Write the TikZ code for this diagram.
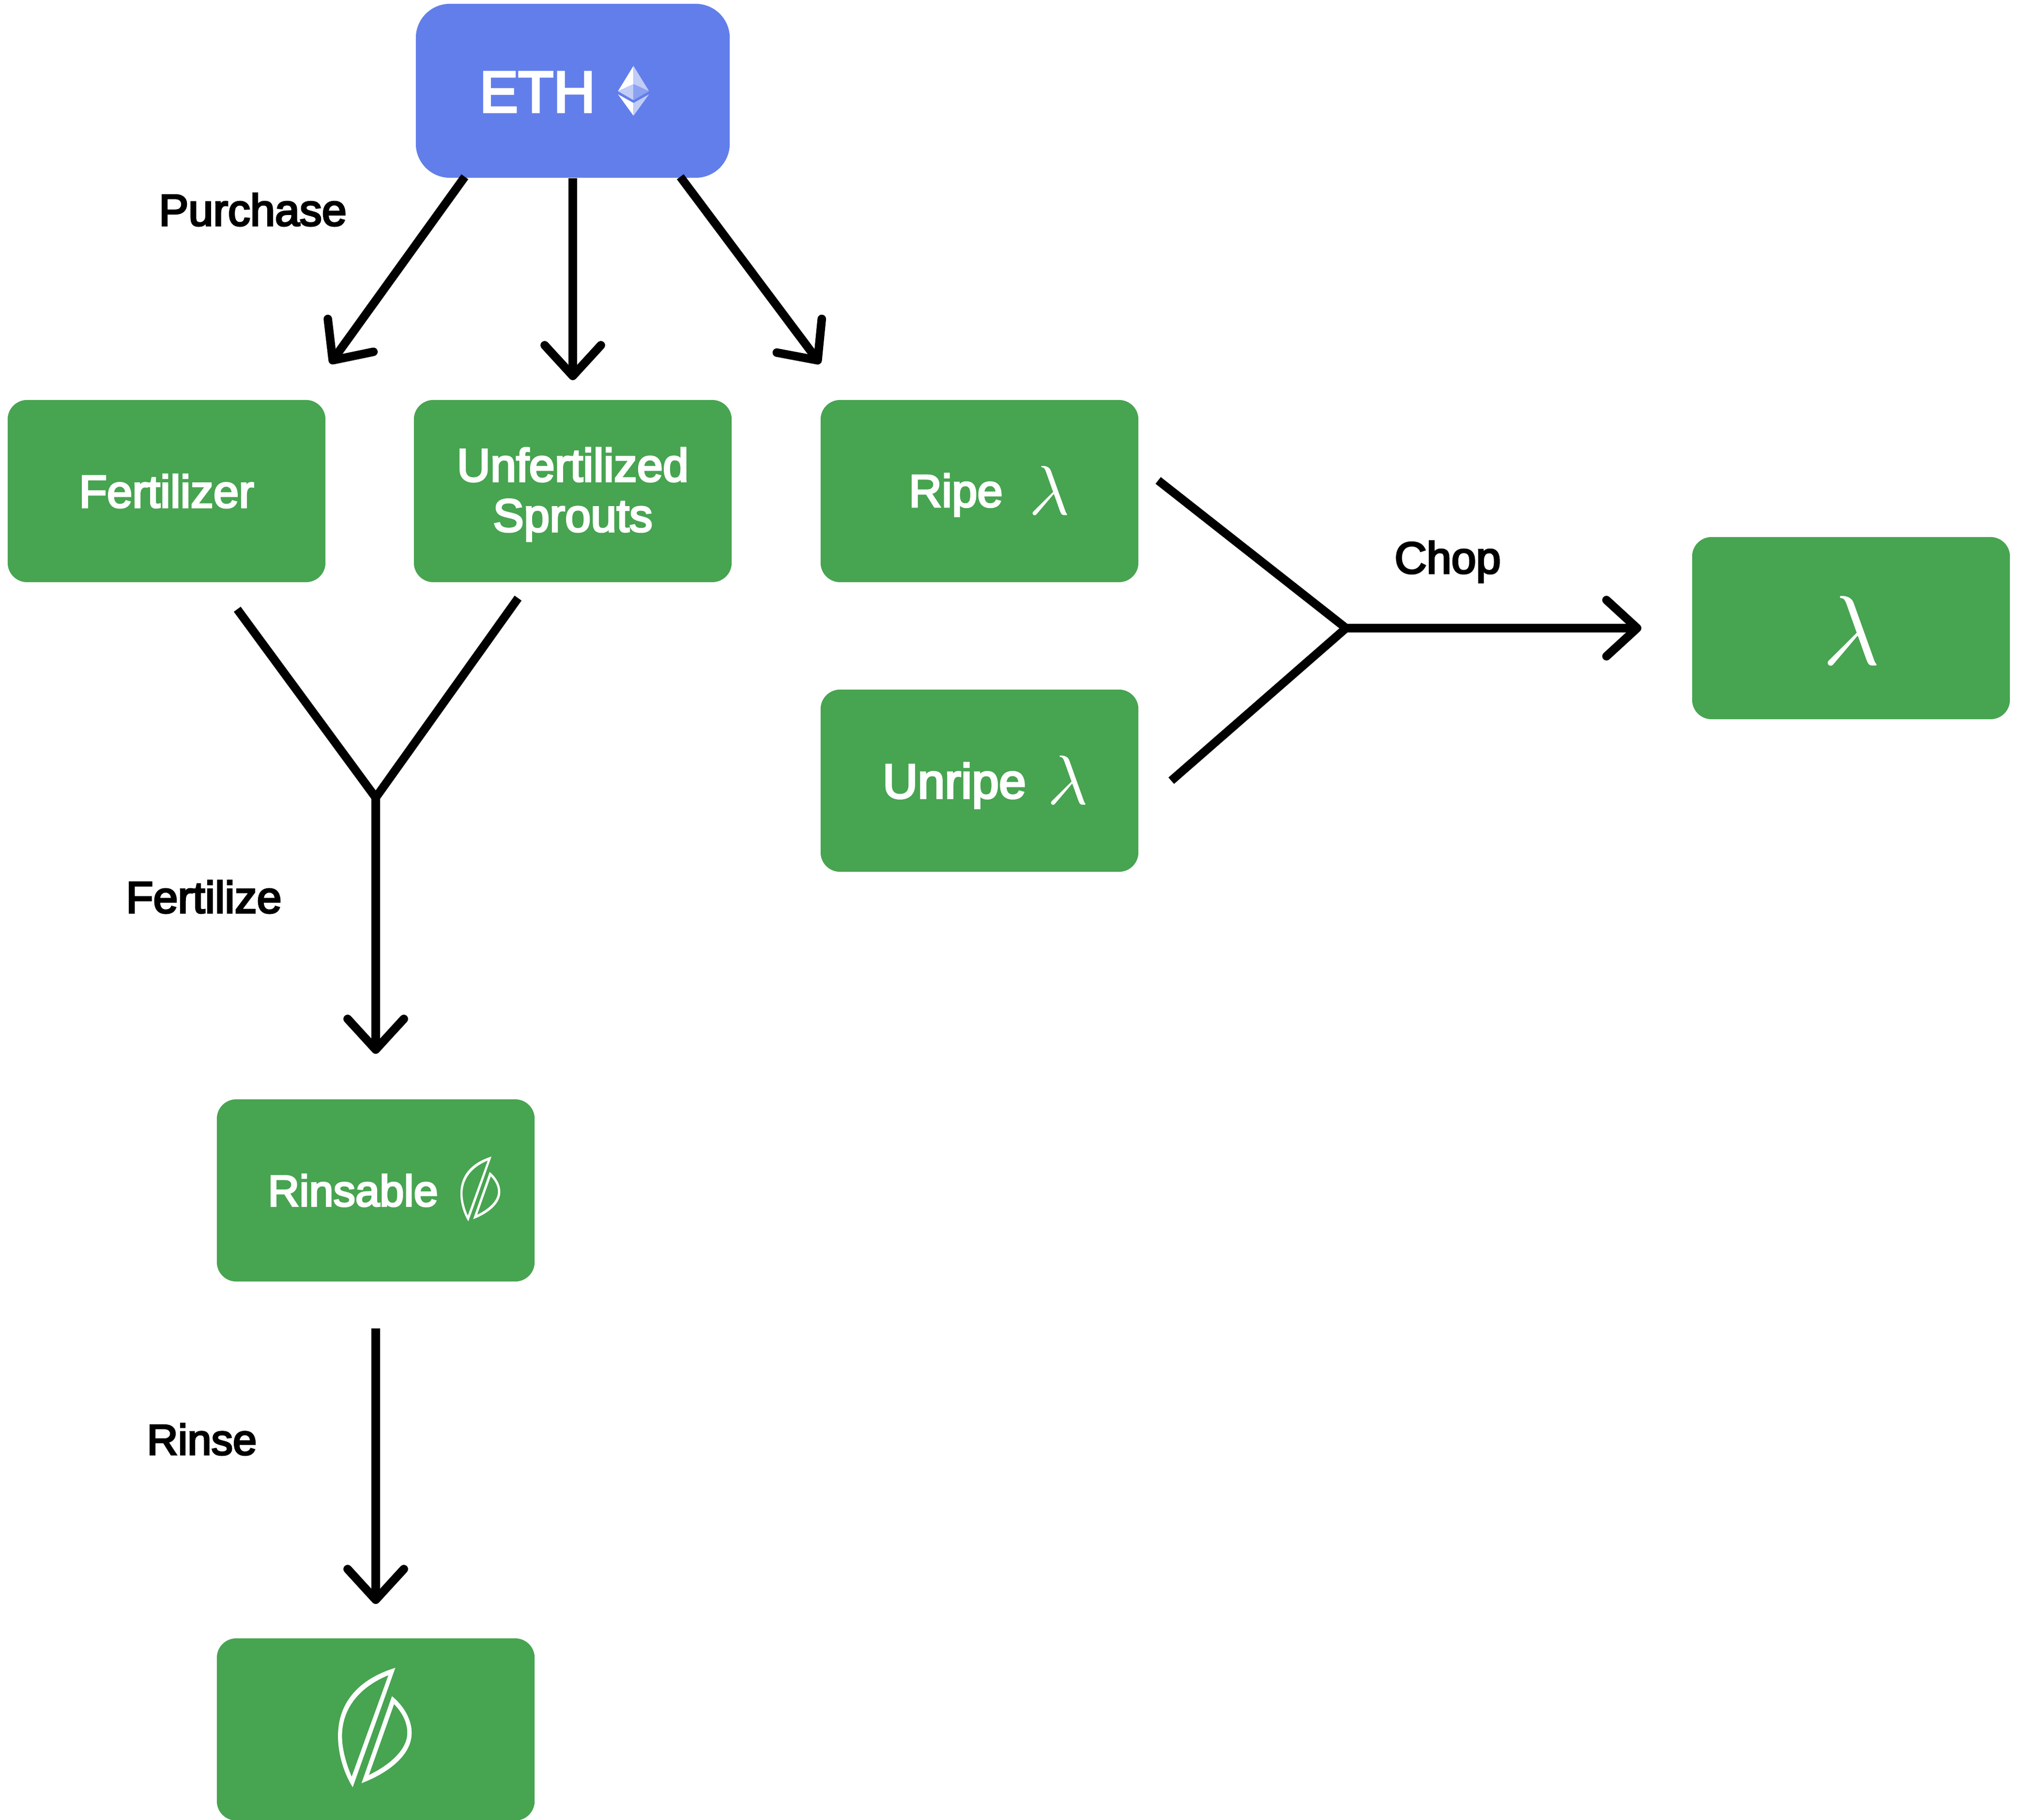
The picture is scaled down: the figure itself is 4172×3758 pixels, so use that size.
\documentclass[tikz,border=0pt]{standalone}
\usepackage{fontspec}
\setmainfont{Liberation Sans}[FakeBold=4]
\usetikzlibrary{arrows.meta}
\definecolor{ethblue}{HTML}{627EEA}
\definecolor{boxgreen}{HTML}{47A450}
\definecolor{ethpale}{HTML}{C1CCF7}
\definecolor{ethmid}{HTML}{8CA2F0}
\tikzset{
  greenbox/.style={fill=boxgreen,rounded corners=11.4pt,minimum width=65.6mm,minimum height=37.6mm,inner sep=0pt,text=white},
  ethbox/.style={fill=ethblue,rounded corners=20pt,minimum width=64.8mm,minimum height=35.9mm,inner sep=0pt},
  boxtext/.style={text=white,inner sep=0pt,align=center,font=\fontsize{26.8}{29.5}\selectfont},
  steplabel/.style={text=black,inner sep=0pt,font=\fontsize{26.1}{30}\selectfont},
  lamglyph/.style={text=white,inner sep=0pt},
  flow/.style={draw=black,line width=5pt,line join=miter},
  flowarrow/.style={flow,-{Straight Barb[length=18pt,width=33pt,round]}},
}
\newcommand{\leafglyph}[3]{%
  \begin{scope}[shift={(#1,#2)},scale=#3,x=0.01cm,y=-0.01cm]
    \fill[white,even odd rule]
      (42.5,-123.3) .. controls (-30.4,-100.7) and (-75.9,-54) .. (-75.9,17.7)
      .. controls (-75.9,56) and (-62.9,96) .. (-45.5,123.3) -- cycle
      (28.2,-108) .. controls (-30.4,-84) and (-67.6,-40.7) .. (-67.6,17.7)
      .. controls (-67.6,46) and (-58.5,76) .. (-47.7,101.7) -- cycle
      (35.6,-64.7) .. controls (60.7,-44) and (76.3,-15.7) .. (76.3,11)
      .. controls (76.3,56) and (30.4,92.7) .. (-27.3,115) -- cycle
      (39.9,-48.3) .. controls (58.5,-29) and (67.2,-9) .. (67.2,11)
      .. controls (67.2,46) and (30.4,77.7) .. (-12.1,98) -- cycle;
  \end{scope}}
\begin{document}
\begin{tikzpicture}[x=0.01cm,y=-0.01cm]
\useasboundingbox (0,0) rectangle (4172,3758);
\coordinate (ethA) at (960,365);
\coordinate (ethC) at (1405,365);
\coordinate (tipA) at (682,751);
\coordinate (tipB) at (1183,785);
\coordinate (tipC) at (1694,751);
\coordinate (fFree) at (490,1258);
\coordinate (uFree) at (1070,1235);
\coordinate (merge) at (776,1647);
\coordinate (tipF) at (776,2176);
\coordinate (rFree) at (776,2743);
\coordinate (tipR) at (776,3312);
\coordinate (ripeFree) at (2392,992);
\coordinate (unripeFree) at (2419,1612);
\coordinate (chop) at (2780,1297);
\coordinate (tipChop) at (3390,1297);

\node[ethbox] (eth) at (1183,187.5) {};
\node[greenbox] (fert) at (344,1014) {};
\node[greenbox] (unfert) at (1183,1014) {};
\node[greenbox] (ripe) at (2023,1014) {};
\node[greenbox] (unripe) at (2023,1612) {};
\node[greenbox] (lambda) at (3823,1297) {};
\node[greenbox] (rinsable) at (776,2458) {};
\node[greenbox] (bean) at (776,3571) {};

\draw[flowarrow] (ethA) -- (tipA);
\draw[flowarrow] (eth.south) -- (tipB);
\draw[flowarrow] (ethC) -- (tipC);
\draw[flow] (fFree) -- (merge) -- (uFree);
\draw[flowarrow] (merge) -- (tipF);
\draw[flowarrow] (rFree) -- (tipR);
\draw[flow] (ripeFree) -- (chop) -- (unripeFree);
\draw[flowarrow] (chop) -- (tipChop);

\node[boxtext,font=\fontsize{34}{40}\selectfont] (ethtxt) at (1110,190) {ETH};
\node[boxtext] (ferttxt) at (344,1014) {Fertilizer};
\node[boxtext,font=\fontsize{27.2}{29.5}\selectfont] (unferttxt) at (1183,1021) {Unfertilized\\Sprouts};
\node[boxtext] (ripetxt) at (1974,1022) {Ripe};
\node[lamglyph,scale=4.1] (ripelam) at (2168,1012) {$\lambda$};
\node[boxtext,font=\fontsize{28.6}{32}\selectfont] (unripetxt) at (1971,1622) {Unripe};
\node[lamglyph,scale=4.1] (unripelam) at (2206,1610) {$\lambda$};
\node[lamglyph,scale=5.8] (biglam) at (3824,1302) {$\lambda$};
\node[boxtext,font=\fontsize{25.7}{30}\selectfont] (rinsetxt) at (729,2458) {Rinsable};

\node[steplabel] (purchase) at (522,433) {Purchase};
\node[steplabel] (fertilize) at (421,1852) {Fertilize};
\node[steplabel,font=\fontsize{25.2}{30}\selectfont] (rinse) at (417,2972) {Rinse};
\node[steplabel] (choplab) at (2990,1160) {Chop};

% Ethereum glyph
\fill[white] (1308.4,136) -- (1276.3,188.3) -- (1308.4,173.7) -- cycle;
\fill[ethpale] (1308.4,136) -- (1340.5,188.3) -- (1308.4,173.7) -- cycle;
\fill[ethpale] (1276.3,188.3) -- (1308.4,173.7) -- (1308.4,206.7) -- cycle;
\fill[ethmid] (1340.5,188.3) -- (1308.4,173.7) -- (1308.4,206.7) -- cycle;
\fill[white] (1276.3,194.7) -- (1308.4,212.7) -- (1308.4,239) -- cycle;
\fill[ethpale] (1340.5,194.7) -- (1308.4,212.7) -- (1308.4,239) -- cycle;

\leafglyph{992}{2455}{0.543}
\leafglyph{774}{3567}{1}
\end{tikzpicture}
\end{document}
